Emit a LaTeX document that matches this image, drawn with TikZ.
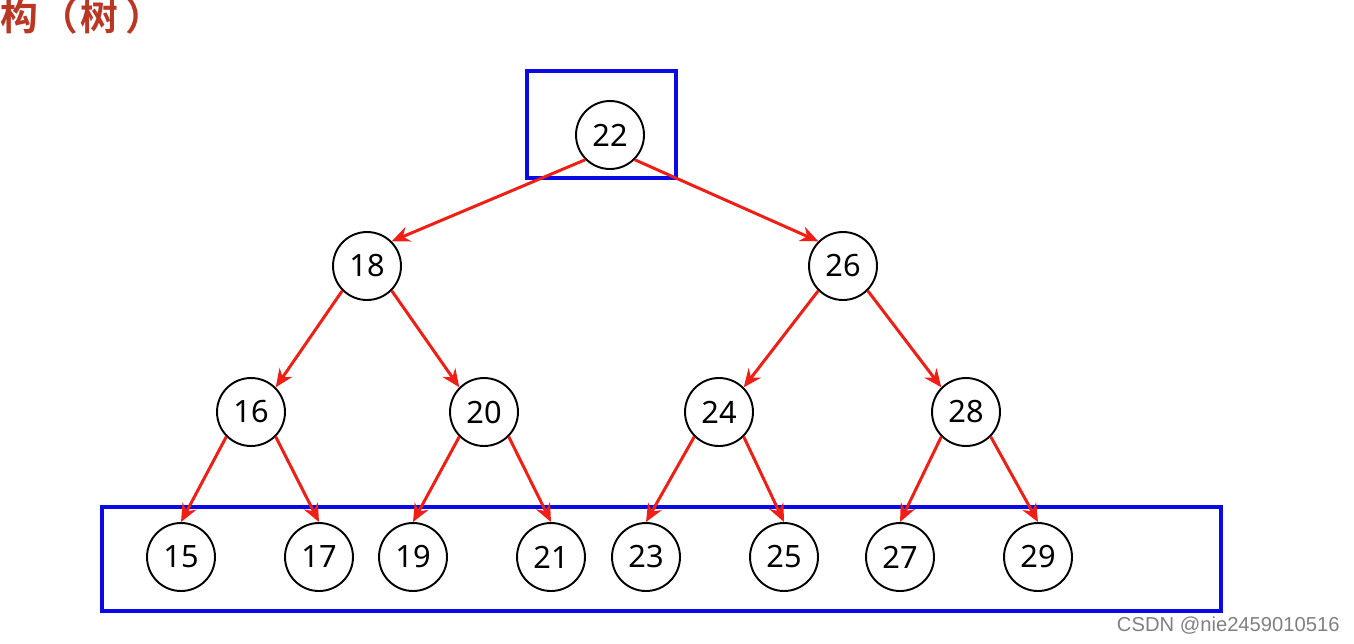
\documentclass[tikz,border=0pt]{standalone}
\usepackage{fontspec}
\usetikzlibrary{arrows.meta}
\setmainfont{Noto Sans}
\newfontfamily\cjkbold[BoldFont={Noto Sans CJK SC Bold}]{Noto Sans CJK SC}
\newfontfamily\markfont{Liberation Sans}
\definecolor{edgered}{RGB}{240,30,20}
\definecolor{boxblue}{RGB}{10,10,230}
\definecolor{titlered}{RGB}{185,55,35}
\begin{document}
\begin{tikzpicture}[x=0.02cm, y=-0.02cm, >={Stealth[length=3.6mm,width=3.1mm]},
        key/.style={draw, circle, line width=1.1pt, minimum size=1.36cm, inner sep=0pt, font=\fontsize{17.5}{20}\selectfont},
        edge/.style={->, draw=edgered, line width=1.7pt},
        frame/.style={draw=boxblue, line width=1.8pt}]
        \useasboundingbox (0,0) rectangle (1354,643);
        % title fragment and watermark
        \node[anchor=west, inner sep=0pt, text=titlered, font=\cjkbold\bfseries\fontsize{21.5}{24}\selectfont] (title) at (0,16) {构\hspace{0.05em}（\hspace{0.07em}树\hspace{0.18em}）};
        \node[anchor=east, inner sep=0pt, text=black!50, font=\markfont\fontsize{11.5}{13}\selectfont] (mark) at (1340,626) {CSDN @nie2459010516};
        % boxes
        \draw[frame] (527,71) rectangle (676,178);
        \draw[frame] (102,507) rectangle (1221,611);
        % tree
        \node[key] (n22) at (610,135) {22};
        \node[key] (n18) at (367,266) {18};
        \node[key] (n26) at (843,266) {26};
        \node[key] (n16) at (251,412) {16};
        \node[key] (n20) at (484,412) {20};
        \node[key] (n24) at (719,412) {24};
        \node[key] (n28) at (966,412) {28};
        \node[key] (n15) at (181,557) {15};
        \node[key] (n17) at (319,557) {17};
        \node[key] (n19) at (413,557) {19};
        \node[key] (n21) at (551,557) {21};
        \node[key] (n23) at (646,557) {23};
        \node[key] (n25) at (784,557) {25};
        \node[key] (n27) at (900,557) {27};
        \node[key] (n29) at (1038,557) {29};
        \draw[edge] (n22.south west) -- (n18.north east);
        \draw[edge] (n22.south east) -- (n26.north west);
        \draw[edge] (n18.south west) -- (n16.north east);
        \draw[edge] (n18.south east) -- (n20.north west);
        \draw[edge] (n26.south west) -- (n24.north east);
        \draw[edge] (n26.south east) -- (n28.north west);
        \draw[edge] (n16.south west) -- (n15.north);
        \draw[edge] (n16.south east) -- (n17.north);
        \draw[edge] (n20.south west) -- (n19.north);
        \draw[edge] (n20.south east) -- (n21.north);
        \draw[edge] (n24.south west) -- (n23.north);
        \draw[edge] (n24.south east) -- (n25.north);
        \draw[edge] (n28.south west) -- (n27.north);
        \draw[edge] (n28.south east) -- (n29.north);
    \end{tikzpicture}
\end{document}
